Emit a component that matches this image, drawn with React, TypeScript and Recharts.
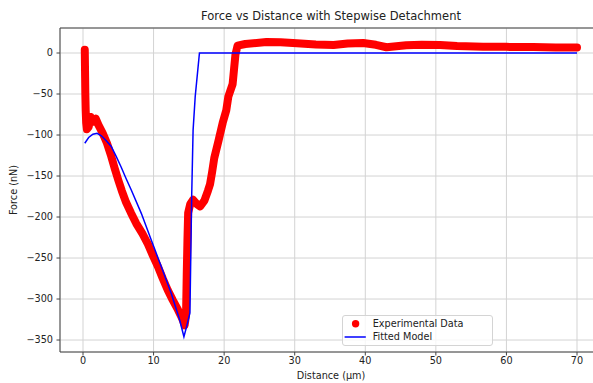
import { CartesianGrid, Line, LineChart, ReferenceLine, XAxis, YAxis } from "recharts"

const expDistance = [
  0.25, 0.27, 0.3, 0.33, 0.38, 0.45, 0.55, 0.8, 1.1, 1.4, 1.8, 2.2, 2.8, 3.4, 4.0, 4.5, 5.0, 5.5,
  6.1, 6.8, 7.55, 8.4, 9.2, 9.9, 10.6, 11.3, 12.0, 12.7, 13.45, 13.9, 14.2, 14.4, 14.6, 14.7, 14.8,
  14.9, 15.2, 15.6, 16.1, 16.6, 17.2, 17.7, 18.0, 18.3, 18.6, 19.2, 19.8, 20.3, 20.6, 21.2, 21.4,
  21.6, 21.9, 23, 26, 28, 30.3, 33, 35.5, 37.5, 39.7, 41.5, 43, 45.8, 48, 50.6, 53, 56.7, 60, 63.8,
  67, 70,
]
const expForce = [
  4, -10, -30, -50, -70, -85, -93, -90, -78, -84, -80, -88, -98, -110, -126, -141, -155, -168,
  -182, -195, -208, -220, -233, -247, -260, -275, -289, -301, -313, -321, -327, -332, -320, -270,
  -228, -195, -184, -179, -184, -187, -180, -168, -160, -145, -128, -107, -85, -70, -53, -38, -20,
  -2, 9, 11, 13.5, 13, 11.8, 10.5, 9.8, 11.5, 12.3, 10, 7, 9.5, 10, 9.8, 8.5, 7.7, 7.5, 7.2, 6.8,
  6.8,
]

// fitted model
const fitDistance = [
  0.25, 0.8, 1.4, 2.0, 2.6, 3.3, 4.0, 4.7, 5.4, 6.1, 6.84, 8.26, 9.67, 11.1, 12.5, 13.7, 14.3,
  14.7, 15.15, 15.4, 15.6, 15.9, 16.5, 70,
]
const fitForce = [
  -110, -103, -99, -98, -101, -107, -114, -126, -139, -153, -167, -195.5, -228, -260.6, -293,
  -325.6, -346, -333, -317, -175, -94, -53, 0, 0,
]

const xTicks = [0, 10, 20, 30, 40, 50, 60, 70]
const yTicks = [-350, -300, -250, -200, -150, -100, -50, 0]

const expData = expDistance.map((x, i) => ({ x, y: expForce[i] }))
const fitData = fitDistance.map((x, i) => ({ x, y: fitForce[i] }))

const font = "DejaVu Sans, sans-serif"
const minus = (v: number) => String(v).replace("-", "\u2212")

export default function App() {
  return (
    <div
      style={{
        position: "absolute",
        left: 0,
        top: 0,
        width: 593,
        height: 383,
        overflow: "hidden",
        background: "#fff",
        fontFamily: font,
        color: "#222",
      }}
    >
      <div
        style={{
          position: "absolute",
          top: 9,
          left: 331,
          transform: "translateX(-50%)",
          whiteSpace: "nowrap",
          fontSize: 11.5,
        }}
      >
        Force vs Distance with Stepwise Detachment
      </div>

      <LineChart
        width={612}
        height={383}
        margin={{ top: 28, right: 10.3, left: 0, bottom: 0 }}
      >
        <CartesianGrid stroke="#d3d3d3" strokeWidth={1} />
        <XAxis
          type="number"
          dataKey="x"
          domain={[-3.26, 73.5]}
          ticks={xTicks}
          allowDataOverflow
          height={31}
          tickSize={3.5}
          tickMargin={2}
          stroke="#444"
          tick={{ fontSize: 9.7, fill: "#222", fontFamily: font }}
        />
        <YAxis
          type="number"
          dataKey="y"
          domain={[-364.6, 30.5]}
          ticks={yTicks}
          allowDataOverflow
          width={60}
          tickSize={3.5}
          tickMargin={3.5}
          stroke="#444"
          tickFormatter={minus}
          tick={{ fontSize: 9.7, fill: "#222", fontFamily: font }}
        />
        <ReferenceLine y={30.5} stroke="#444" />
        <Line
          data={expData}
          dataKey="y"
          type="linear"
          stroke="#ff0000"
          strokeWidth={8}
          strokeLinecap="round"
          strokeLinejoin="round"
          dot={false}
          isAnimationActive={false}
        />
        <Line
          data={fitData}
          dataKey="y"
          type="linear"
          stroke="#0000ff"
          strokeWidth={1.5}
          dot={false}
          isAnimationActive={false}
        />
      </LineChart>

      <div
        style={{
          position: "absolute",
          left: 0,
          top: 190,
          transform: "translate(8px, -50%) rotate(-90deg)",
          transformOrigin: "0 0",
          fontSize: 9.7,
          whiteSpace: "nowrap",
        }}
      >
        <span style={{ position: "absolute", transform: "translateX(-50%)" }}>Force (nN)</span>
      </div>
      <div
        style={{
          position: "absolute",
          top: 370,
          left: 331,
          transform: "translateX(-50%)",
          fontSize: 9.7,
          whiteSpace: "nowrap",
        }}
      >
        Distance (μm)
      </div>

      <div
        style={{
          position: "absolute",
          left: 341.7,
          top: 315,
          width: 151,
          height: 31,
          border: "1px solid #d4d4d4",
          borderRadius: 3,
          background: "rgba(255,255,255,0.8)",
          boxSizing: "border-box",
          fontSize: 9.7,
        }}
      >
        <svg width={30} height={31} style={{ position: "absolute", left: 0, top: 0 }}>
          <circle cx={12.6} cy={7.7} r={3.7} fill="#ff0000" />
          <line x1={1.6} x2={22.8} y1={21} y2={21} stroke="#0000ff" strokeWidth={1.5} />
        </svg>
        <div style={{ position: "absolute", left: 30, top: 1.5, whiteSpace: "nowrap" }}>
          Experimental Data
        </div>
        <div style={{ position: "absolute", left: 30, top: 15, whiteSpace: "nowrap" }}>
          Fitted Model
        </div>
      </div>
    </div>
  )
}
